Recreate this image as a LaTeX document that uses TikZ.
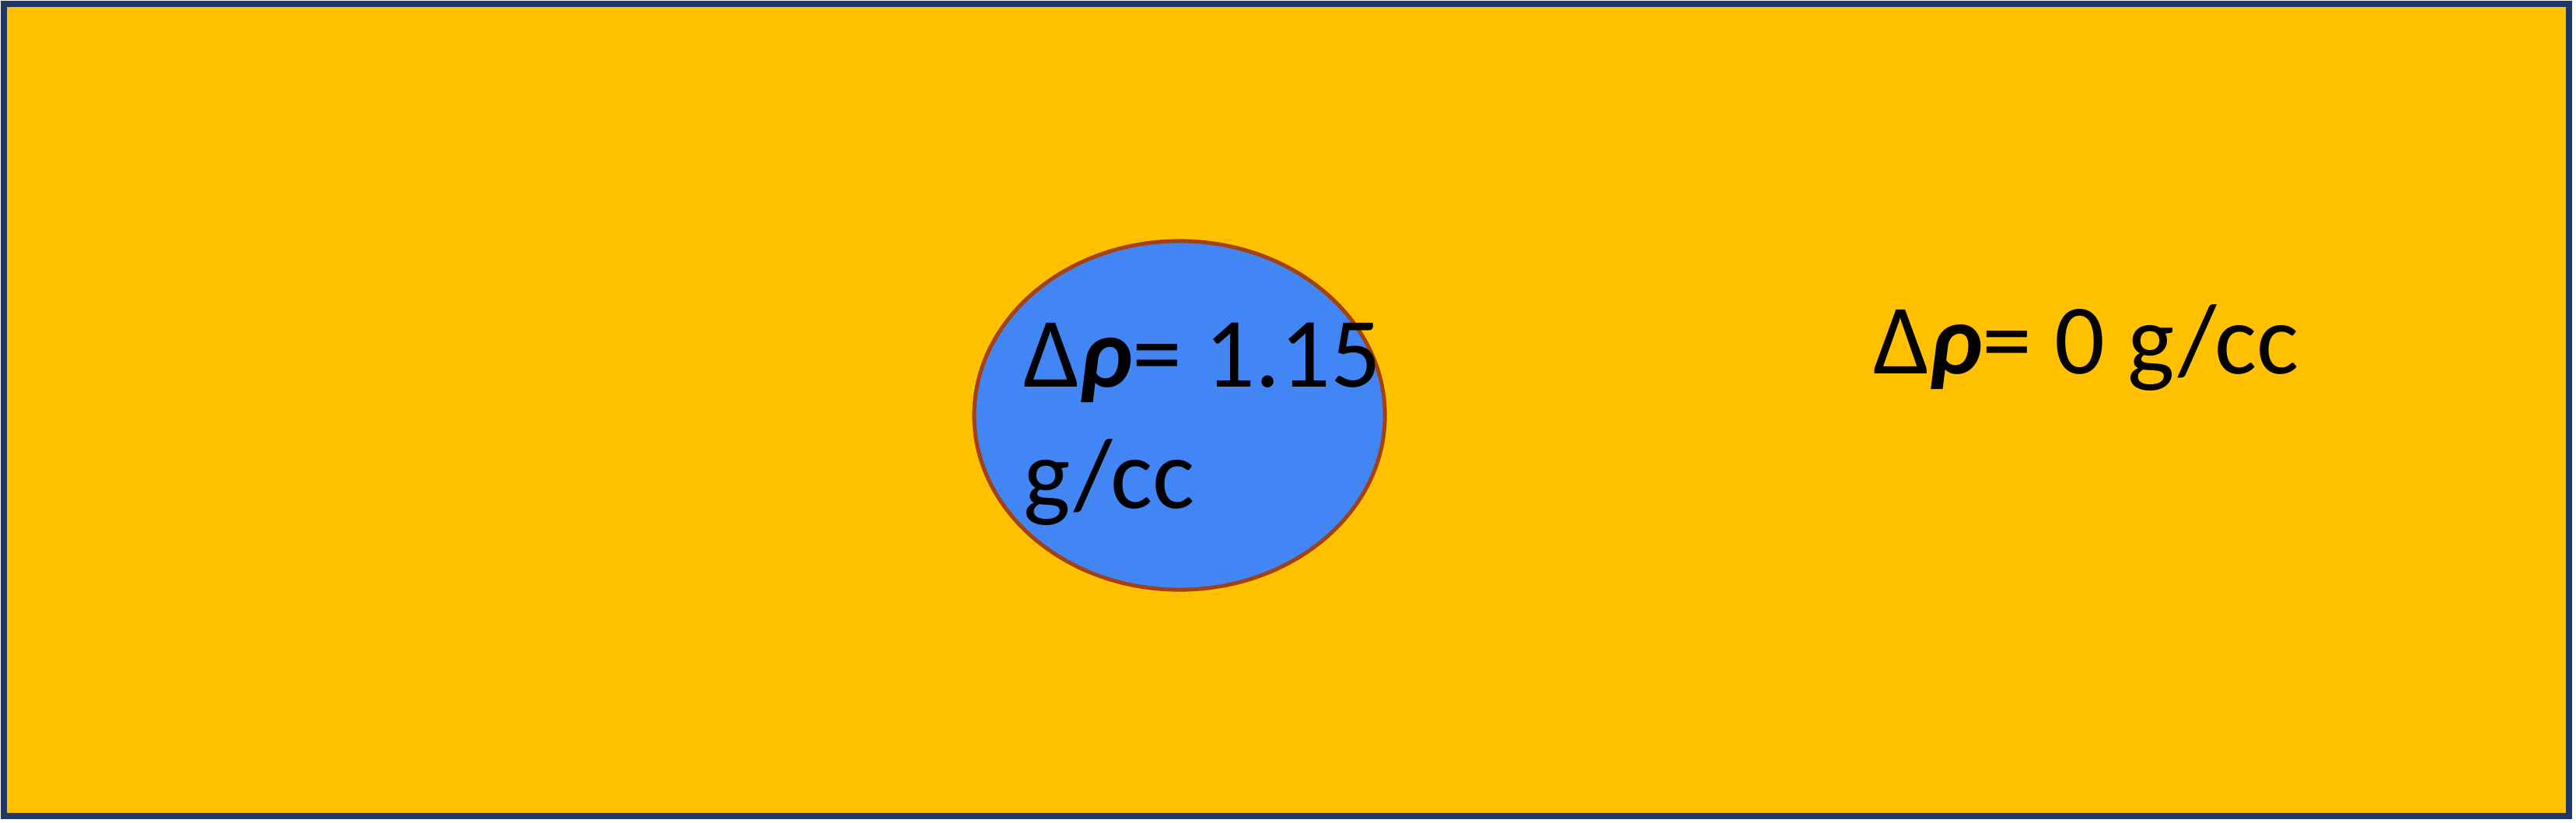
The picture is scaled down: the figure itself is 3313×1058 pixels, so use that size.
\documentclass[tikz,border=0pt]{standalone}
\usepackage{fontspec}
\setmainfont{Carlito}
\usetikzlibrary{shapes.geometric}
\definecolor{sand}{HTML}{FFC000}
\definecolor{frame}{HTML}{1F3864}
\definecolor{inclusion}{HTML}{4285F4}
\definecolor{rim}{HTML}{A5400F}
\begin{document}
\begin{tikzpicture}[x=0.01cm,y=-0.01cm,
  dens/.style={font=\fontsize{36.4}{44.2}\selectfont,inner sep=0pt,align=left,anchor=base west}]
  \useasboundingbox (0,0) rectangle (3313,1058);
  % background layer
  \draw[fill=sand,draw=frame,line width=0.08cm] (5,5) rectangle (3304,1049);

  \node[ellipse,fill=inclusion,draw=rim,line width=0.05cm,
        minimum width=5.28cm,minimum height=4.48cm,inner sep=0pt] (body) at (1517,534) {};
  \node[dens] (inner) at (1316,653) {Δ{\bfseries\itshape ρ}= 1.15\\g/cc};

  \node[dens] (outer) at (2409,480) {Δ{\bfseries\itshape ρ}= 0 g/cc};
\end{tikzpicture}
\end{document}
